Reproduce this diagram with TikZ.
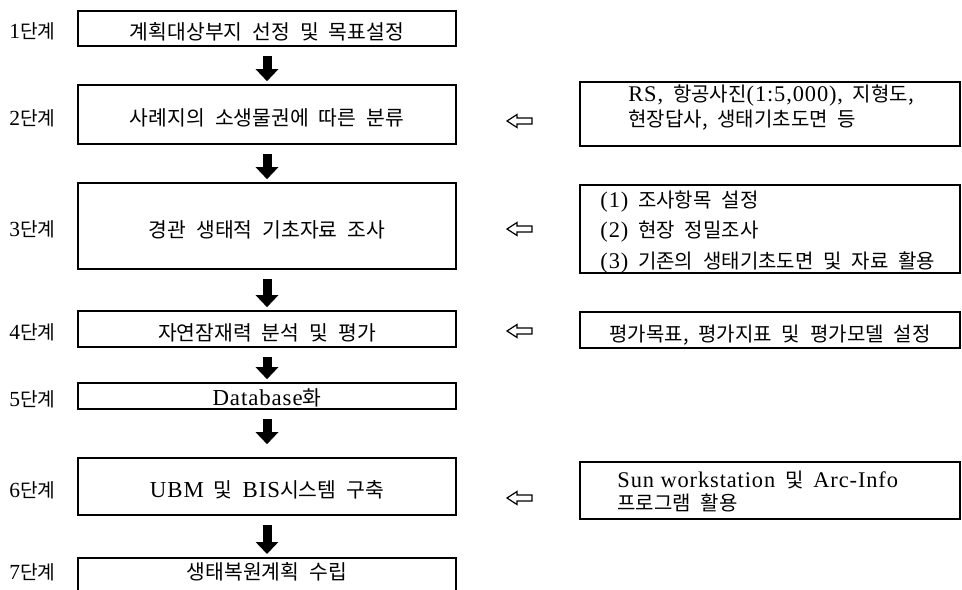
\documentclass[tikz,border=0pt]{standalone}
\usepackage{fontspec}
\setmainfont{Liberation Serif}[Scale=1.12,LetterSpace=4]
\newfontfamily\kr{Noto Sans CJK KR}[WordSpace=2.2]
\newcommand{\K}[1]{{\kr #1}}
\usetikzlibrary{arrows.meta}
\begin{document}
\begin{tikzpicture}[x=0.5pt,y=-0.5pt,
  box/.style={draw, line width=0.8pt, inner sep=0pt, minimum width=189pt,
    text height=11pt, text depth=0pt, font=\fontsize{10.2}{12}\selectfont},
  rbox/.style={draw, line width=0.8pt, inner sep=0pt, minimum width=190pt},
  lab/.style={inner sep=0pt, text height=10.5pt, text depth=0pt, font=\fontsize{9.6}{11}\selectfont},
  rtext/.style={inner sep=0pt, anchor=west, align=left},
  flow/.style={line width=4.5pt, -{Triangle[width=11pt,length=6pt]}, shorten <=4.5pt, shorten >=1.5pt},
  hollow/.style={draw, line width=0.6pt, line join=miter}]
\path[use as bounding box] (0,0) rectangle (962,589);
\clip (0,0) rectangle (962,589);

% left column
\node[box, minimum height=17.5pt] (b1) at (267,28.5) {\K{계획대상부지 선정 및 목표설정}};
\node[box, minimum height=29.5pt] (b2) at (267,114.5) {\K{사례지의 소생물권에 따른 분류}};
\node[box, minimum height=43pt] (b3) at (267,226) {\K{경관 생태적 기초자료 조사}};
\node[box, minimum height=18pt] (b4) at (267,329) {\K{자연잠재력 분석 및 평가}};
\node[box, minimum height=13pt, text height=9.6pt] (b5) at (267,396) {Database\K{화}};
\node[box, minimum height=28.5pt] (b6) at (267,486.5) {UBM\K{ 및 }BIS\K{시스템 구축}};
\node[box, anchor=north, minimum height=22pt] (b7) at (267,557) {};
\node[inner sep=0pt, font=\fontsize{10.2}{12}\selectfont] (t7) at (267,572) {\K{생태복원계획 수립}};

% stage labels
\node[lab] (l1) at (32.5,28.5) {1\K{단계}};
\node[lab] (l2) at (32.5,114.5) {2\K{단계}};
\node[lab] (l3) at (32.5,226) {3\K{단계}};
\node[lab] (l4) at (32.5,329) {4\K{단계}};
\node[lab] (l5) at (32.5,396) {5\K{단계}};
\node[lab] (l6) at (32.5,486.5) {6\K{단계}};
\node[inner sep=0pt, font=\fontsize{9.6}{11}\selectfont] (l7) at (32.5,572) {7\K{단계}};

% flow arrows
\draw[flow] (b1) -- (b2);
\draw[flow] (b2) -- (b3);
\draw[flow] (b3) -- (b4);
\draw[flow] (b4) -- (b5);
\draw[flow, shorten >=6.5pt] (b5) -- (b6);
\draw[flow] (b6) -- (b7);

% right column
\node[rbox, minimum height=32pt] (r2) at (770,114) {};
\node[rtext, font=\fontsize{10}{12.5}\selectfont] (t2) at (628,108)
  {RS,\K{ 항공사진}(1:5,000),\K{ 지형도,}\\\K{현장답사, 생태기초도면 등}};
\node[rbox, minimum height=44pt] (r3) at (770,229) {};
\node[rtext, font=\fontsize{10}{15.2}\selectfont] (t3) at (600,232)
  {(1)\K{ 조사항목 설정}\\(2)\K{ 현장 정밀조사}\\(3)\K{ 기존의 생태기초도면 및 자료 활용}};
\node[rbox, minimum height=18pt, text height=11pt, text depth=0pt, font=\fontsize{10}{12}\selectfont]
  (r4) at (770,330) {\K{평가목표, 평가지표 및 평가모델 설정}};
\node[rbox, minimum height=28.5pt] (r6) at (770,490.5) {};
\node[rtext, font=\fontsize{10}{11.5}\selectfont] (t6) at (617,491.5)
  {Sun workstation\K{ 및 }Arc-Info\\\K{프로그램 활용}};

% side (hollow) arrows
\coordinate (a2) at (532,121);
\coordinate (a3) at (532,229);
\coordinate (a4) at (532,331);
\coordinate (a6) at (532,498);
\foreach \c in {a2,a3,a4,a6}
  \draw[hollow] (\c) ++(0,-3) -- ++(-15,0) -- ++(0,-3.5) -- ++(-10,6.5)
    -- ++(10,6.5) -- ++(0,-3.5) -- ++(15,0) -- cycle;
\end{tikzpicture}
\end{document}
